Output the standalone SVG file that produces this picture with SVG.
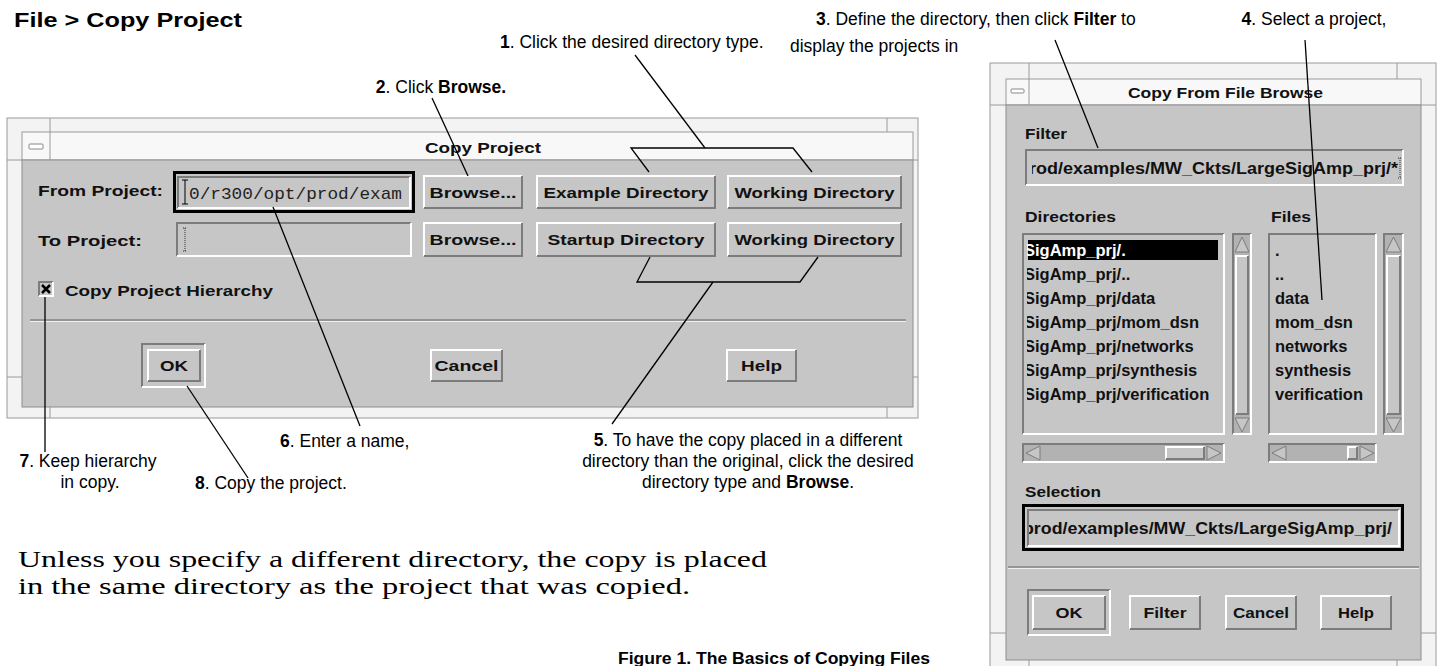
<svg xmlns="http://www.w3.org/2000/svg" width="1438" height="666" viewBox="0 0 1438 666">
<defs>
<style>
.frame{fill:#f3f3f3;stroke:#9a9a9a;stroke-width:1}
.ttl{fill:#f8f8f8;stroke:#9a9a9a;stroke-width:1}
.body{fill:#c6c6c6;stroke:#8e8e8e;stroke-width:1}
.face{fill:#c6c6c6}
.trough{fill:#b2b2b2}
.hl{stroke:#ffffff;stroke-width:2;fill:none}
.sh{stroke:#7c7c7c;stroke-width:2;fill:none}
.notch{stroke:#9a9a9a;stroke-width:1}
.arr{fill:#c6c6c6;stroke:#7c7c7c;stroke-width:1}
.ui{font-family:"Liberation Sans",Arial,sans-serif;font-weight:bold;font-size:15px;fill:#111}
.mid{text-anchor:middle}
.lst{font-family:"Liberation Sans",Arial,sans-serif;font-weight:bold;font-size:16.5px;fill:#111}
.mono{font-family:"Liberation Mono","Courier New",monospace;font-size:17px;fill:#222}
.cl{font-family:"Liberation Sans",Arial,sans-serif;font-size:17.5px;fill:#000}
.b{font-weight:bold}
.serif{font-family:"Liberation Serif","Times New Roman",serif;font-size:22.5px;fill:#000}
.cn{stroke:#000;stroke-width:1.3;fill:none}
</style>
<clipPath id="clipF"><rect x="1032" y="151" width="370" height="33"/></clipPath>
<clipPath id="clipD"><rect x="1027" y="236" width="195" height="196"/></clipPath>
<clipPath id="clipS"><rect x="1029" y="511" width="369" height="34"/></clipPath>
</defs>
<rect x="0" y="0" width="1438" height="666" fill="#ffffff"/>

<g id="heading">
<text x="14" y="27" font-family="Liberation Sans, Arial, sans-serif" font-weight="bold" font-size="20" textLength="228" lengthAdjust="spacingAndGlyphs">File &gt; Copy Project</text>
</g>

<g id="copy-project">
<rect class="frame" x="7" y="118" width="911" height="300"/>
<rect class="ttl" x="22" y="132" width="891" height="28"/>
<rect class="body" x="22" y="160" width="891" height="247"/>
<line class="notch" x1="50" y1="132" x2="50" y2="160"/>
<rect x="29" y="144" width="14" height="5" rx="1" fill="#fff" stroke="#888"/>
<line class="notch" x1="50" y1="118" x2="50" y2="132"/>
<line class="notch" x1="887" y1="118" x2="887" y2="132"/>
<line class="notch" x1="7" y1="160" x2="22" y2="160"/>
<line class="notch" x1="913" y1="160" x2="918" y2="160"/>
<line class="notch" x1="7" y1="377" x2="22" y2="377"/>
<line class="notch" x1="913" y1="377" x2="918" y2="377"/>
<line class="notch" x1="50" y1="407" x2="50" y2="418"/>
<line class="notch" x1="887" y1="407" x2="887" y2="418"/>
<text class="ui mid" x="483" y="153" textLength="116" lengthAdjust="spacingAndGlyphs">Copy Project</text>

<text class="ui" x="38" y="196" textLength="125" lengthAdjust="spacingAndGlyphs">From Project:</text>
<rect x="174.5" y="172.5" width="239" height="39" fill="none" stroke="#000" stroke-width="3"/>
<rect class="face" x="177" y="176" width="234" height="33"/>
<path class="sh" d="M178 208V177H410"/><path class="hl" d="M178 208H410V177"/>
<path d="M182 180H188M185 180V204M182 204H188" stroke="#000" stroke-width="1" fill="none"/>
<text class="mono" x="189" y="199" textLength="213" lengthAdjust="spacingAndGlyphs">0/r300/opt/prod/exam</text>

<text class="ui" x="38" y="246" textLength="104" lengthAdjust="spacingAndGlyphs">To Project:</text>
<rect class="face" x="176" y="222" width="236" height="35"/>
<path class="sh" d="M177 256V223H411"/><path class="hl" d="M177 256H411V223"/>
<path d="M183 228H187M185 228V251M183 251H187" stroke="#333" stroke-width="1" stroke-dasharray="1 1" fill="none"/>

<g id="btn-browse-from">
<rect class="face" x="423" y="175" width="100" height="34"/>
<path class="hl" d="M424 208V176H522"/><path class="sh" d="M424 208H522V176"/>
<text class="ui mid" x="473" y="198" textLength="87" lengthAdjust="spacingAndGlyphs">Browse...</text>
</g>
<g id="btn-example">
<rect class="face" x="536" y="175" width="180" height="34"/>
<path class="hl" d="M537 208V176H715"/><path class="sh" d="M537 208H715V176"/>
<text class="ui mid" x="626" y="198" textLength="165" lengthAdjust="spacingAndGlyphs">Example Directory</text>
</g>
<g id="btn-working-from">
<rect class="face" x="727" y="175" width="175" height="34"/>
<path class="hl" d="M728 208V176H901"/><path class="sh" d="M728 208H901V176"/>
<text class="ui mid" x="814.5" y="198" textLength="160" lengthAdjust="spacingAndGlyphs">Working Directory</text>
</g>
<g id="btn-browse-to">
<rect class="face" x="423" y="222" width="100" height="35"/>
<path class="hl" d="M424 256V223H522"/><path class="sh" d="M424 256H522V223"/>
<text class="ui mid" x="473" y="245" textLength="87" lengthAdjust="spacingAndGlyphs">Browse...</text>
</g>
<g id="btn-startup">
<rect class="face" x="536" y="222" width="180" height="35"/>
<path class="hl" d="M537 256V223H715"/><path class="sh" d="M537 256H715V223"/>
<text class="ui mid" x="626" y="245" textLength="157" lengthAdjust="spacingAndGlyphs">Startup Directory</text>
</g>
<g id="btn-working-to">
<rect class="face" x="727" y="222" width="175" height="35"/>
<path class="hl" d="M728 256V223H901"/><path class="sh" d="M728 256H901V223"/>
<text class="ui mid" x="814.5" y="245" textLength="160" lengthAdjust="spacingAndGlyphs">Working Directory</text>
</g>

<g id="chk-hierarchy">
<rect class="face" x="38" y="281" width="16" height="16"/>
<path class="sh" d="M39 296V282H53"/><path class="hl" d="M39 296H53V282"/>
<path d="M42 285L50 293M50 285L42 293" stroke="#000" stroke-width="2.5"/>
<text class="ui" x="65" y="296" textLength="208" lengthAdjust="spacingAndGlyphs">Copy Project Hierarchy</text>
</g>

<line x1="30" y1="320" x2="906" y2="320" stroke="#858585" stroke-width="1.5"/>
<line x1="30" y1="321.5" x2="906" y2="321.5" stroke="#f0f0f0" stroke-width="1"/>

<g id="btn-ok">
<rect class="face" x="141" y="343" width="65" height="45"/>
<path class="sh" d="M142 387V344H205"/><path class="hl" d="M142 387H205V344"/>
<rect class="face" x="147" y="349" width="54" height="33"/>
<path class="hl" d="M148 381V350H200"/><path class="sh" d="M148 381H200V350"/>
<text class="ui mid" x="174" y="371" textLength="28" lengthAdjust="spacingAndGlyphs">OK</text>
</g>
<g id="btn-cancel">
<rect class="face" x="430" y="349" width="73" height="33"/>
<path class="hl" d="M431 381V350H502"/><path class="sh" d="M431 381H502V350"/>
<text class="ui mid" x="466.5" y="371" textLength="64" lengthAdjust="spacingAndGlyphs">Cancel</text>
</g>
<g id="btn-help">
<rect class="face" x="726" y="349" width="71" height="33"/>
<path class="hl" d="M727 381V350H796"/><path class="sh" d="M727 381H796V350"/>
<text class="ui mid" x="761.5" y="371" textLength="41" lengthAdjust="spacingAndGlyphs">Help</text>
</g>
</g>

<g id="file-browse">
<rect class="frame" x="990" y="63" width="446" height="620"/>
<rect class="ttl" x="1006" y="79" width="415" height="26"/>
<rect class="body" x="1006" y="105" width="415" height="555"/>
<line class="notch" x1="1029" y1="79" x2="1029" y2="105"/>
<rect x="1011" y="89" width="13" height="4" rx="1" fill="#fff" stroke="#888"/>
<line class="notch" x1="1029" y1="63" x2="1029" y2="79"/>
<line class="notch" x1="1397" y1="63" x2="1397" y2="79"/>
<line class="notch" x1="990" y1="105" x2="1006" y2="105"/>
<line class="notch" x1="1421" y1="105" x2="1436" y2="105"/>
<line class="notch" x1="990" y1="633" x2="1006" y2="633"/>
<line class="notch" x1="1421" y1="633" x2="1436" y2="633"/>
<line class="notch" x1="1029" y1="660" x2="1029" y2="666"/>
<line class="notch" x1="1397" y1="660" x2="1397" y2="666"/>
<text class="ui mid" x="1225.5" y="98" textLength="195" lengthAdjust="spacingAndGlyphs">Copy From File Browse</text>

<text class="ui" x="1025" y="139" textLength="42" lengthAdjust="spacingAndGlyphs">Filter</text>
<rect class="face" x="1025" y="149" width="379" height="37"/>
<path class="sh" d="M1026 185V150H1403"/><path class="hl" d="M1026 185H1403V150"/>
<text class="lst" x="1029" y="174" textLength="369" lengthAdjust="spacingAndGlyphs" clip-path="url(#clipF)">rod/examples/MW_Ckts/LargeSigAmp_prj/*</text>
<path d="M1398 158H1402M1400 158V178M1398 178H1402" stroke="#333" stroke-width="1" stroke-dasharray="1 1" fill="none"/>

<text class="ui" x="1025" y="222" textLength="91" lengthAdjust="spacingAndGlyphs">Directories</text>
<text class="ui" x="1271" y="222" textLength="40" lengthAdjust="spacingAndGlyphs">Files</text>

<g id="dir-list">
<rect class="face" x="1022" y="233" width="203" height="202"/>
<path class="sh" d="M1023 434V234H1224"/><path class="hl" d="M1023 434H1224V234"/>
<rect x="1028" y="240" width="190" height="20" fill="#000"/>
<g clip-path="url(#clipD)" class="lst">
<text x="1024" y="256" fill="#fff">SigAmp_prj/.</text>
<text x="1024" y="280">SigAmp_prj/..</text>
<text x="1024" y="304">SigAmp_prj/data</text>
<text x="1024" y="328">SigAmp_prj/mom_dsn</text>
<text x="1024" y="352">SigAmp_prj/networks</text>
<text x="1024" y="376">SigAmp_prj/synthesis</text>
<text x="1024" y="400">SigAmp_prj/verification</text>
</g>
</g>
<g id="dir-vscroll">
<rect class="trough" x="1232" y="233" width="20" height="202"/>
<path class="sh" d="M1233 434V234H1251"/><path class="hl" d="M1233 434H1251V234"/>
<polygon class="arr" points="1242,237 1235,252 1249,252"/>
<rect class="face" x="1235" y="255" width="14" height="160"/>
<path class="hl" d="M1236 414V256H1248"/><path class="sh" d="M1236 414H1248V256"/>
<polygon class="arr" points="1235,418 1249,418 1242,432"/>
</g>
<g id="file-list">
<rect class="face" x="1268" y="233" width="109" height="202"/>
<path class="sh" d="M1269 434V234H1376"/><path class="hl" d="M1269 434H1376V234"/>
<g class="lst">
<text x="1275" y="256">.</text>
<text x="1275" y="280">..</text>
<text x="1275" y="304">data</text>
<text x="1275" y="328">mom_dsn</text>
<text x="1275" y="352">networks</text>
<text x="1275" y="376">synthesis</text>
<text x="1275" y="400">verification</text>
</g>
</g>
<g id="file-vscroll">
<rect class="trough" x="1383" y="233" width="21" height="202"/>
<path class="sh" d="M1384 434V234H1403"/><path class="hl" d="M1384 434H1403V234"/>
<polygon class="arr" points="1393.5,237 1386,252 1401,252"/>
<rect class="face" x="1386" y="255" width="15" height="160"/>
<path class="hl" d="M1387 414V256H1400"/><path class="sh" d="M1387 414H1400V256"/>
<polygon class="arr" points="1386,418 1401,418 1393.5,432"/>
</g>
<g id="dir-hscroll">
<rect class="trough" x="1022" y="443" width="203" height="20"/>
<path class="sh" d="M1023 462V444H1224"/><path class="hl" d="M1023 462H1224V444"/>
<polygon class="arr" points="1026,453 1040,446 1040,460"/>
<rect class="face" x="1165" y="446" width="40" height="14"/>
<path class="hl" d="M1166 459V447H1204"/><path class="sh" d="M1166 459H1204V447"/>
<polygon class="arr" points="1207,446 1207,460 1221,453"/>
</g>
<g id="file-hscroll">
<rect class="trough" x="1268" y="443" width="109" height="20"/>
<path class="sh" d="M1269 462V444H1376"/><path class="hl" d="M1269 462H1376V444"/>
<polygon class="arr" points="1272,453 1286,446 1286,460"/>
<rect class="face" x="1347" y="446" width="11" height="14"/>
<path class="hl" d="M1348 459V447H1357"/><path class="sh" d="M1348 459H1357V447"/>
<polygon class="arr" points="1360,446 1360,460 1374,453"/>
</g>

<text class="ui" x="1025" y="497" textLength="76" lengthAdjust="spacingAndGlyphs">Selection</text>
<rect x="1023.5" y="505.5" width="379" height="44" fill="none" stroke="#000" stroke-width="3"/>
<rect class="face" x="1027" y="509" width="373" height="38"/>
<path class="sh" d="M1028 546V510H1399"/><path class="hl" d="M1028 546H1399V510"/>
<text class="lst" x="1023" y="534" textLength="369" lengthAdjust="spacingAndGlyphs" clip-path="url(#clipS)">prod/examples/MW_Ckts/LargeSigAmp_prj/</text>

<line x1="1008" y1="567" x2="1419" y2="567" stroke="#858585" stroke-width="1.5"/>
<line x1="1008" y1="568.5" x2="1419" y2="568.5" stroke="#f0f0f0" stroke-width="1"/>

<g id="fb-ok">
<rect class="face" x="1027" y="589" width="84" height="47"/>
<path class="sh" d="M1028 635V590H1110"/><path class="hl" d="M1028 635H1110V590"/>
<rect class="face" x="1032" y="595" width="74" height="35"/>
<path class="hl" d="M1033 629V596H1105"/><path class="sh" d="M1033 629H1105V596"/>
<text class="ui mid" x="1069" y="618" textLength="27" lengthAdjust="spacingAndGlyphs">OK</text>
</g>
<g id="fb-filter">
<rect class="face" x="1129" y="595" width="72" height="35"/>
<path class="hl" d="M1130 629V596H1200"/><path class="sh" d="M1130 629H1200V596"/>
<text class="ui mid" x="1165" y="618" textLength="43" lengthAdjust="spacingAndGlyphs">Filter</text>
</g>
<g id="fb-cancel">
<rect class="face" x="1225" y="595" width="72" height="35"/>
<path class="hl" d="M1226 629V596H1296"/><path class="sh" d="M1226 629H1296V596"/>
<text class="ui mid" x="1261" y="618" textLength="56" lengthAdjust="spacingAndGlyphs">Cancel</text>
</g>
<g id="fb-help">
<rect class="face" x="1320" y="595" width="72" height="35"/>
<path class="hl" d="M1321 629V596H1391"/><path class="sh" d="M1321 629H1391V596"/>
<text class="ui mid" x="1356" y="618" textLength="36" lengthAdjust="spacingAndGlyphs">Help</text>
</g>
</g>

<g id="callouts">
<text class="cl" x="500" y="48"><tspan class="b">1</tspan>. Click the desired directory type.</text>
<text class="cl mid" x="441" y="93"><tspan class="b">2</tspan>. Click <tspan class="b">Browse.</tspan></text>
<text class="cl" x="816" y="25"><tspan class="b">3</tspan>. Define the directory, then click <tspan class="b">Filter</tspan> to</text>
<text class="cl" x="790" y="52">display the projects in</text>
<text class="cl mid" x="1314" y="25"><tspan class="b">4</tspan>. Select a project,</text>
<text class="cl" x="280" y="447"><tspan class="b">6</tspan>. Enter a name,</text>
<text class="cl mid" x="748" y="446"><tspan class="b">5</tspan>. To have the copy placed in a different</text>
<text class="cl mid" x="748" y="467">directory than the original, click the desired</text>
<text class="cl mid" x="748" y="488">directory type and <tspan class="b">Browse</tspan>.</text>
<text class="cl mid" x="88" y="467"><tspan class="b">7</tspan>. Keep hierarchy</text>
<text class="cl mid" x="90" y="488">in copy.</text>
<text class="cl" x="195" y="489"><tspan class="b">8</tspan>. Copy the project.</text>
</g>

<g id="connectors">
<line class="cn" x1="432" y1="98" x2="468" y2="176"/>
<line class="cn" x1="635" y1="55" x2="705" y2="148"/>
<polyline class="cn" points="649,172 631,148 793,148 812,172"/>
<polyline class="cn" points="650,257 637,282 800,282 818,257"/>
<line class="cn" x1="713" y1="282" x2="612" y2="424"/>
<line class="cn" x1="273" y1="207" x2="360" y2="426"/>
<line class="cn" x1="45" y1="297" x2="45" y2="452"/>
<line class="cn" x1="187" y1="386" x2="248" y2="478"/>
<line class="cn" x1="1055" y1="40" x2="1098" y2="148"/>
<line class="cn" x1="1305" y1="40" x2="1322" y2="300"/>
</g>

<g id="body-text">
<text class="serif" x="18" y="567" textLength="749" lengthAdjust="spacingAndGlyphs">Unless you specify a different directory, the copy is placed</text>
<text class="serif" x="18" y="594" textLength="672" lengthAdjust="spacingAndGlyphs">in the same directory as the project that was copied.</text>
<text x="618" y="664" font-family="Liberation Sans, Arial, sans-serif" font-weight="bold" font-size="16" textLength="312" lengthAdjust="spacingAndGlyphs">Figure 1. The Basics of Copying Files</text>
</g>
</svg>
